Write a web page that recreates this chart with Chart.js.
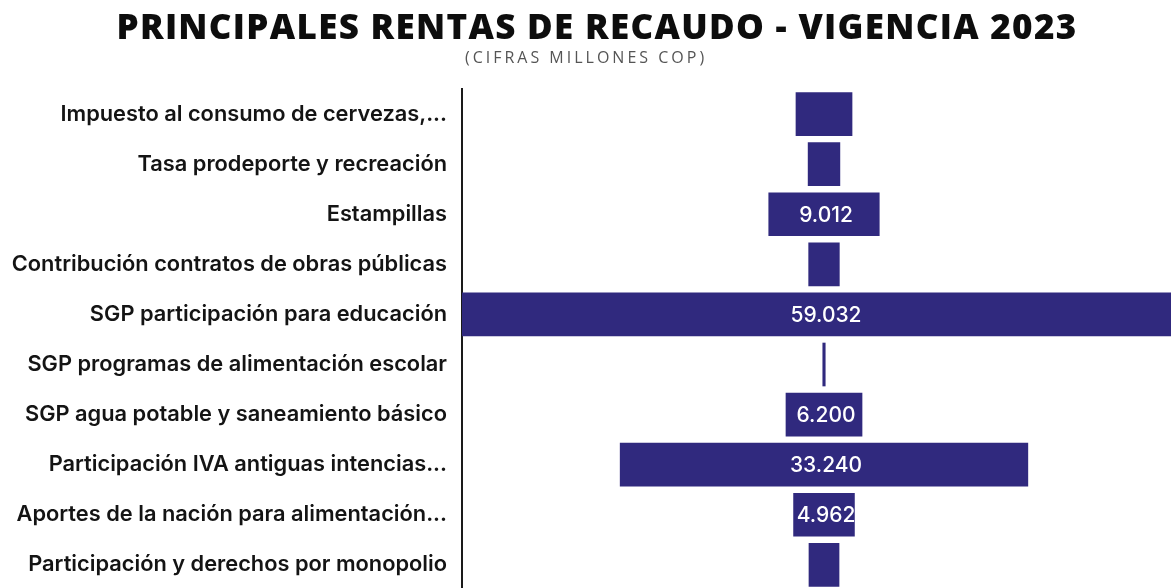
<!DOCTYPE html>
<html>
<head>
<meta charset="utf-8">
<script src="https://cdn.jsdelivr.net/npm/chart.js@4.4.0/dist/chart.umd.min.js"></script>
<style>
  html, body { margin: 0; padding: 0; overflow: hidden; background: #fff; }
  #wrap { position: relative; width: 1171px; height: 618px; }
</style>
</head>
<body>
<div id="wrap"><canvas id="rentas"></canvas></div>
<script>
var categorias = [
  'Impuesto al consumo de cervezas,...',
  'Tasa prodeporte y recreación',
  'Estampillas',
  'Contribución contratos de obras públicas',
  'SGP participación para educación',
  'SGP programas de alimentación escolar',
  'SGP agua potable y saneamiento básico',
  'Participación IVA antiguas intencias...',
  'Aportes de la nación para alimentación...',
  'Participación y derechos por monopolio'
];
var valores = [4570, 2590, 9012, 2500, 59032, 200, 6200, 33240, 4962, 2450];
var minEtiqueta = 4900; // below this the bar shows no value
var titulo = 'PRINCIPALES RENTAS DE RECAUDO - VIGENCIA 2023';
var subtitulo = '(CIFRAS MILLONES COP)';

var colorBarra = '#30297e';

// funnel: each bar centred on zero
var rangos = valores.map(function (v) { return [-v / 2, v / 2]; });

function miles(n) {
  return String(n).replace(/\B(?=(\d{3})+(?!\d))/g, '.');
}

var etiquetas = {
  id: 'etiquetas',
  afterDatasetsDraw: function (chart) {
    var ctx = chart.ctx;
    var meta = chart.getDatasetMeta(0);
    ctx.save();
    ctx.fillStyle = '#ffffff';
    ctx.font = '500 21px Inter';
    ctx.textAlign = 'center';
    ctx.textBaseline = 'middle';
    meta.data.forEach(function (bar, i) {
      if (valores[i] < minEtiqueta) return;
      var cx = (bar.x + bar.base) / 2;
      ctx.fillText(miles(valores[i]), cx + 2, bar.y + 1);
    });
    ctx.restore();
  },
  afterDraw: function (chart) {
    var ctx = chart.ctx;
    ctx.save();
    ctx.textAlign = 'center';
    ctx.textBaseline = 'middle';
    ctx.fillStyle = '#0d0d0d';
    ctx.font = '800 35px "Open Sans"';
    ctx.letterSpacing = '1.3px';
    ctx.fillText(titulo, 597, 29);
    ctx.fillStyle = '#555555';
    ctx.font = '400 16px "Open Sans"';
    ctx.letterSpacing = '3px';
    ctx.fillText(subtitulo, 586, 58);
    ctx.restore();
  }
};

var ctx = document.getElementById('rentas').getContext('2d');
var myChart = new Chart(ctx, {
  type: 'bar',
  data: {
    labels: categorias,
    datasets: [{
      data: rangos,
      backgroundColor: colorBarra,
      borderWidth: 0,
      borderSkipped: false,
      barThickness: 43
    }]
  },
  options: {
    indexAxis: 'y',
    responsive: true,
    maintainAspectRatio: false,
    animation: false,
    layout: { padding: { top: 89, left: 0, right: 0, bottom: 0 } },
    plugins: {
      legend: { display: false },
      tooltip: { enabled: false },
      title: { display: false }
    },
    scales: {
      x: {
        display: false,
        min: -29516,
        max: 28292
      },
      y: {
        afterFit: function (scale) { scale.width = 462; },
        grid: { display: false, drawTicks: false },
        border: { display: true, color: '#1a1a1a', width: 2 },
        ticks: {
          color: '#141414',
          padding: 15,
          font: { family: 'Inter', size: 21.8, weight: '600' }
        }
      }
    }
  },
  plugins: [etiquetas]
});
</script>
</body>
</html>
